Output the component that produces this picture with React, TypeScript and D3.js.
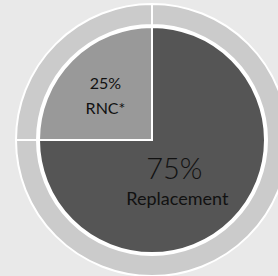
import React from "react";
import * as d3 from "d3";

const categories = ["Replacement", "RNC*"];
const values = [75, 25];
const labels = ["75%", "25%"];

const W = 278;
const H = 276;
const cx = 152;
const cy = 140;
const rInner = 113;
const ringIn = 115;
const ringOut = 136;

const App: React.FC = () => {
  const pie = d3.pie<number>().sort(null).value((d) => d);
  const slices = pie(values);
  const pieArc = d3.arc<d3.PieArcDatum<number>>().innerRadius(0).outerRadius(rInner);
  const ringArc = d3.arc<d3.PieArcDatum<number>>().innerRadius(ringIn).outerRadius(ringOut);
  const fills = ["#555555", "#999999"];

  // label anchors from centroids
  const bigC = d3.arc<d3.PieArcDatum<number>>().innerRadius(0).outerRadius(100).centroid(slices[0]);
  const smallC = d3.arc<d3.PieArcDatum<number>>().innerRadius(0).outerRadius(140).centroid(slices[1]);

  return (
    <svg width={W} height={H} style={{ position: "absolute", left: 0, top: 0 }}>
      <rect width={W} height={H} fill="#e9e9e9" />
      <g transform={`translate(${cx},${cy})`}>
        {slices.map((s, i) => (
          <path key={"r" + i} d={ringArc(s) || ""} fill="#cbcbcb" stroke="#ffffff" strokeWidth={2} />
        ))}
        <circle r={ringIn} fill="#ffffff" />
        {slices.map((s, i) => (
          <path key={"p" + i} d={pieArc(s) || ""} fill={fills[i]} stroke="#ffffff" strokeWidth={2} />
        ))}
        <g fontFamily="Lato, 'Open Sans', sans-serif" fill="#111111" textAnchor="middle">
          <text x={smallC[0] + 3} y={smallC[1] - 2} fontSize={16}>{labels[1]}</text>
          <text x={smallC[0] + 3} y={smallC[1] + 23} fontSize={16}>{categories[1]}</text>
          <text x={bigC[0] - 13} y={bigC[1] + 4} fontSize={29} fontWeight={300}>{labels[0]}</text>
          <text x={bigC[0] - 10} y={bigC[1] + 30} fontSize={18}>{categories[0]}</text>
        </g>
      </g>
    </svg>
  );
};

export default App;
